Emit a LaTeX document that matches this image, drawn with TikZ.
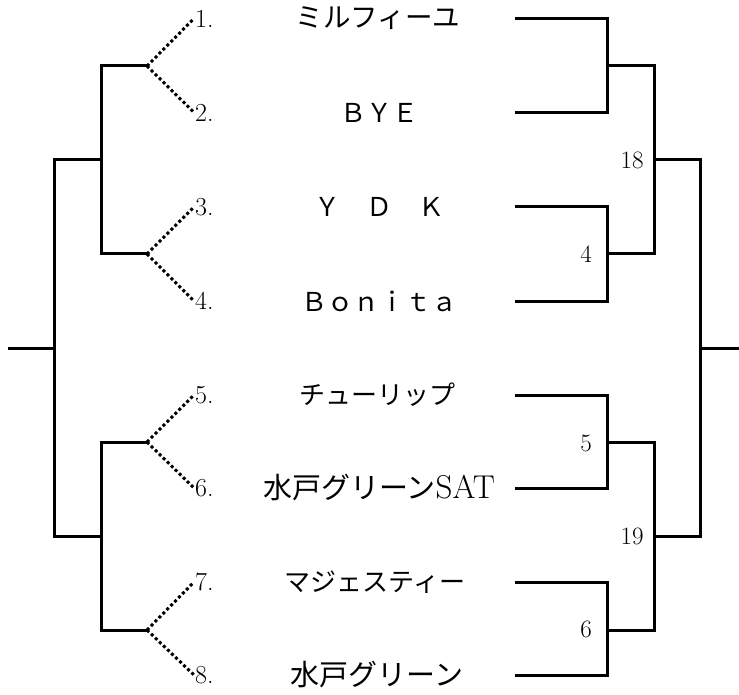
\documentclass[tikz,border=0pt]{standalone}
\usepackage{fontspec}
\newfontfamily\cjk{Noto Sans CJK JP}
\begin{document}
\begin{tikzpicture}[x=1pt,y=-1pt,
  line/.style={line width=3pt, line join=miter},
  dotline/.style={line width=3pt, dash pattern=on 3pt off 2.6pt},
  numlab/.style={anchor=west, inner sep=1pt, font=\fontsize{26}{26}\selectfont},
  team/.style={inner sep=0pt, font=\cjk\fontsize{26}{28}\selectfont},
  score/.style={inner sep=0pt, font=\fontsize{25}{25}\selectfont}]
\useasboundingbox (0,0) rectangle (739,695);
% left side junctions
\coordinate (j1) at (147,66);
\coordinate (j2) at (147,254);
\coordinate (j3) at (147,442);
\coordinate (j4) at (147,630);
\coordinate (k1) at (101,160);
\coordinate (k2) at (101,536);
\coordinate (s) at (54,348);
\coordinate (w) at (8,348);
% numbers
\node[numlab] (n1) at (194,18.5) {1.};
\node[numlab] (n2) at (194,112.5) {2.};
\node[numlab] (n3) at (194,207) {3.};
\node[numlab] (n4) at (194,301) {4.};
\node[numlab] (n5) at (194,395) {5.};
\node[numlab] (n6) at (194,488) {6.};
\node[numlab] (n7) at (194,582) {7.};
\node[numlab] (n8) at (194,675) {8.};
% teams
\node[team, font=\cjk\fontsize{27.5}{28}\selectfont] (t1) at (378,18.5) {ミルフィーユ};
\node[team] (t2) at (379,112.5) {ＢＹＥ};
\node[team] (t3) at (379,207) {Ｙ　Ｄ　Ｋ};
\node[team] (t4) at (379,301) {Ｂｏｎｉｔａ};
\node[team] (t5) at (377,395) {チューリップ};
\node[team, font=\cjk\fontsize{29}{30}\selectfont] (t6) at (379,488) {水戸グリーン{\rmfamily\fontsize{33}{33}\selectfont SAT}};
\node[team] (t7) at (375,582) {マジェスティー};
\node[team, font=\cjk\fontsize{29}{30}\selectfont] (t8) at (377,675) {水戸グリーン};
% right side
\coordinate (r1) at (515,18.5);
\coordinate (r2) at (515,112.5);
\coordinate (r3) at (515,207);
\coordinate (r4) at (515,301);
\coordinate (r5) at (515,395);
\coordinate (r6) at (515,488);
\coordinate (r7) at (515,582);
\coordinate (r8) at (515,675);
\coordinate (a1) at (607,66);
\coordinate (a2) at (607,254);
\coordinate (a3) at (607,442);
\coordinate (a4) at (607,630);
\coordinate (b1) at (654,160);
\coordinate (b2) at (654,536);
\coordinate (c) at (700,348);
\coordinate (e) at (739,348);
% left bracket
\draw[line] (j1) -| (k1) |- (j2);
\draw[line] (j3) -| (k2) |- (j4);
\draw[line] (k1) -| (s) |- (k2);
\draw[line] (s) -- (w);
\draw[dotline] (j1) -- (n1.west);
\draw[dotline] (j1) -- (n2.west);
\draw[dotline] (j2) -- (n3.west);
\draw[dotline] (j2) -- (n4.west);
\draw[dotline] (j3) -- (n5.west);
\draw[dotline] (j3) -- (n6.west);
\draw[dotline] (j4) -- (n7.west);
\draw[dotline] (j4) -- (n8.west);
% right bracket
\draw[line] (r1) -| (a1) |- (r2);
\draw[line] (r3) -| (a2) |- (r4);
\draw[line] (r5) -| (a3) |- (r6);
\draw[line] (r7) -| (a4) |- (r8);
\draw[line] (a1) -| (b1) |- (a2);
\draw[line] (a3) -| (b2) |- (a4);
\draw[line] (b1) -| (c) |- (b2);
\draw[line] (c) -- (e);
% scores
\node[score] (g4) at (586,254) {4};
\node[score] (g18) at (632,160) {18};
\node[score] (g5) at (586,443) {5};
\node[score] (g19) at (632,536) {19};
\node[score] (g6) at (586,629) {6};
\end{tikzpicture}
\end{document}
